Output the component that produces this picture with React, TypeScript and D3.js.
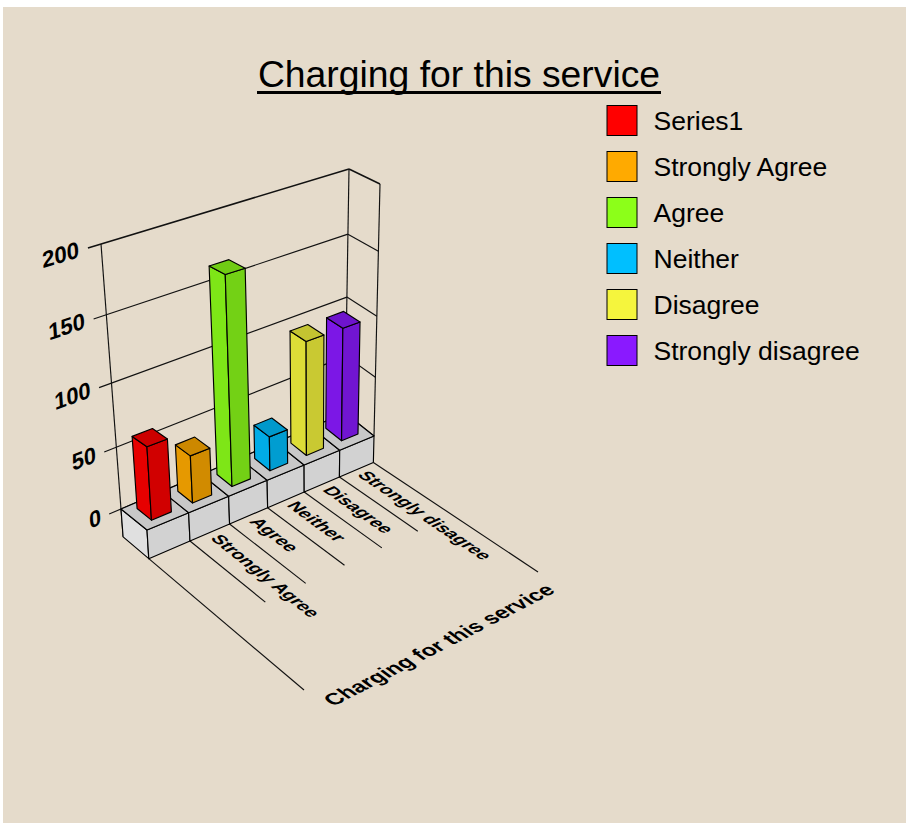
import React from "react";
import * as d3 from "d3";

const title = "Charging for this service";
const seriesNames = ["Series1", "Strongly Agree", "Agree", "Neither", "Disagree", "Strongly disagree"];
const seriesValues = [58, 38, 164, 28, 94, 94];
const baseColors = ["#ff0000", "#ffaa00", "#8cff19", "#00bfff", "#f5f53d", "#8a19ff"];
const valueTicks = [0, 50, 100, 150, 200];
const floorLabels = ["Strongly Agree", "Agree", "Neither", "Disagree", "Strongly disagree"];

type P = [number, number];
// box corners [back/front][left/right] at the bottom (v=0) and top (v=200)
const bottomCorners: P[][] = [[[121, 509], [345, 413]], [[147, 530], [374, 436]]];
const topCorners: P[][] = [[[101, 244], [349, 169]], [[130, 257], [380, 184]]];
const farFloor: P[] = [[304, 690], [538, 572]];
const PLINTH = -22;

const uWarp = (u: number) => u / (u + 0.89 * (6 - u));
const vScale = d3.scaleLinear().domain([PLINTH, 0, 50, 100, 150, 200]).range([-0.105, 0, 0.233, 0.475, 0.733, 1]);

function lerp(a: P, b: P, t: number): P {
  return [a[0] + (b[0] - a[0]) * t, a[1] + (b[1] - a[1]) * t];
}
function project(u: number, v: number, w: number): P {
  const f = uWarp(u);
  const bot = lerp(lerp(bottomCorners[0][0], bottomCorners[0][1], f), lerp(bottomCorners[1][0], bottomCorners[1][1], f), w);
  const top = lerp(lerp(topCorners[0][0], topCorners[0][1], f), lerp(topCorners[1][0], topCorners[1][1], f), w);
  return lerp(bot, top, vScale(v));
}
function floorPoint(u: number, t: number): P {
  const start = project(u, PLINTH, 1);
  const far = lerp(farFloor[0], farFloor[1], uWarp(u));
  return lerp(start, far, t);
}
const shade = (c: string, k: number) => {
  const r = d3.rgb(c);
  return d3.rgb(r.r * k, r.g * k, r.b * k).formatHex();
};
const pts = (a: P[]) => a.map((p) => p.map((n) => n.toFixed(2)).join(",")).join(" ");

const unit = (a: P, b: P): P => {
  const dx = b[0] - a[0], dy = b[1] - a[1];
  const l = Math.hypot(dx, dy);
  return [dx / l, dy / l];
};

function Skewed({ at, xd, yd, size, anchor, children }: any) {
  return (
    <text
      transform={`matrix(${xd[0]} ${xd[1]} ${yd[0]} ${yd[1]} ${at[0]} ${at[1]})`}
      fontSize={size}
      fontWeight="bold"
      fontFamily="Liberation Sans"
      textAnchor={anchor}
      fill="#000"
    >
      {children}
    </text>
  );
}

const Line = ({ a, b, w = 1.15 }: { a: P; b: P; w?: number }) => (
  <line x1={a[0]} y1={a[1]} x2={b[0]} y2={b[1]} stroke="#111" strokeWidth={w} />
);

const Poly = ({ p, fill }: { p: P[]; fill: string }) => (
  <polygon points={pts(p)} fill={fill} stroke="#000" strokeWidth={1.15} strokeLinejoin="round" />
);

export default function App() {
  const cells = d3.range(6);
  const a = 0.26;
  const w0 = 0.2, w1 = 0.75;
  return (
    <svg width={906} height={823} style={{ position: "absolute", left: 0, top: 0, background: "#fff" }}>
      <rect x={3} y={7} width={903} height={816} fill="#e5dbcb" />
      <text x={459} y={87} fontSize={37.3} fontFamily="Liberation Sans" textAnchor="middle" fill="#000">{title}</text>
      <rect x={257} y={91} width={404} height={3} fill="#000" />

      {seriesNames.map((s, i) => (
        <g key={s}>
          <rect x={607} y={105.5 + i * 46} width={30} height={30} fill={baseColors[i]} stroke="#000" strokeWidth={1} />
          <text x={653.5} y={130 + i * 46} fontSize={26.5} fontFamily="Liberation Sans" fill="#000">{s}</text>
        </g>
      ))}

      {/* walls and grid */}
      {valueTicks.map((v) => (
        <g key={v}>
          <Line a={project(-0.28, v, 0)} b={project(6, v, 0)} w={v === 200 ? 1.5 : 1.15} />
          <Line a={project(6, v, 0)} b={project(6, v, 1)} w={v === 200 ? 1.5 : 1.15} />
        </g>
      ))}
      <Line a={project(0, 200, 0)} b={project(0, PLINTH, 0)} />
      <Line a={project(6, 200, 0)} b={project(6, 0, 0)} />
      <Line a={project(6, 200, 1)} b={project(6, 0, 1)} />

      {valueTicks.map((v) => {
        const o = project(-0.46, v, 0);
        return (
          <Skewed key={v} at={[o[0], o[1] + 6.5]} xd={unit(project(0, v, 0), project(6, v, 0))} yd={[0.07, 1]} size={23} anchor="end">
            {v}
          </Skewed>
        );
      })}

      {/* floor lines */}
      {d3.range(7).map((u) => (
        <Line key={u} a={floorPoint(u, 0)} b={floorPoint(u, u === 0 || u === 6 ? 1 : 0.48)} />
      ))}
      {floorLabels.map((s, i) => {
        const u = i + 1.5;
        const start = floorPoint(u, 0.03);
        const xd = unit(floorPoint(u, 0), floorPoint(u, 1));
        const yd: P = unit(floorPoint(u + 1, 0.2), floorPoint(u, 0.2));
        return (
          <Skewed key={s} at={[start[0] + yd[0] * 5.5, start[1] + yd[1] * 5.5]} xd={xd} yd={yd} size={18} anchor="start">
            {s}
          </Skewed>
        );
      })}
      <Skewed
        at={floorPoint(2.82, 1.15)}
        xd={unit(floorPoint(0, 1.15), floorPoint(6, 1.15))}
        yd={unit(floorPoint(3, 0), floorPoint(3, 1))}
        size={21.3}
        anchor="middle"
      >
        {title}
      </Skewed>

      {/* plinth */}
      <Poly p={[project(0, 0, 0), project(0, 0, 1), project(0, PLINTH, 1), project(0, PLINTH, 0)]} fill="#e0e0e0" />
      {cells.map((c) => (
        <g key={c}>
          <Poly p={[project(c, 0, 1), project(c + 1, 0, 1), project(c + 1, PLINTH, 1), project(c, PLINTH, 1)]} fill="#d2d2d2" />
          <Poly p={[project(c, 0, 0), project(c + 1, 0, 0), project(c + 1, 0, 1), project(c, 0, 1)]} fill="#c8c8c8" />
        </g>
      ))}

      {/* bars */}
      {seriesValues.map((v, i) => {
        const u0 = i + a, u1 = i + 1 - a;
        const top = (u: number, w: number) => project(u, v, w);
        const bot = (u: number, w: number) => project(u, 0, w);
        return (
          <g key={i}>
            <Poly p={[top(u0, w0), top(u0, w1), bot(u0, w1), bot(u0, w0)]} fill={shade(baseColors[i], 0.9)} />
            <Poly p={[top(u0, w1), top(u1, w1), bot(u1, w1), bot(u0, w1)]} fill={shade(baseColors[i], 0.82)} />
            <Poly p={[top(u0, w0), top(u1, w0), top(u1, w1), top(u0, w1)]} fill={shade(baseColors[i], 0.8)} />
          </g>
        );
      })}
    </svg>
  );
}
